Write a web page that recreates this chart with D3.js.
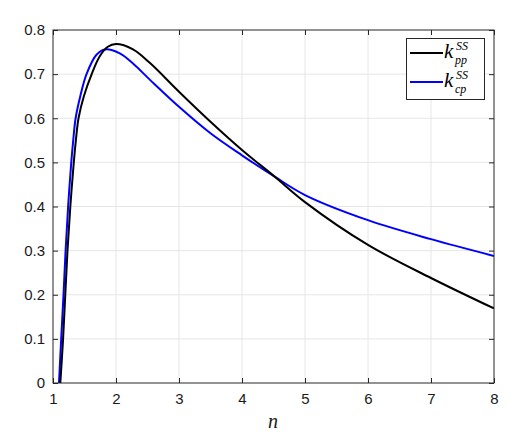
<!DOCTYPE html>
<html>
<head>
<meta charset="utf-8">
<script src="https://cdn.jsdelivr.net/npm/d3@7"></script>
<style>
  html, body { margin: 0; padding: 0; background: #fff; }
  svg { display: block; }
</style>
</head>
<body>
<svg id="chart" width="529" height="435"></svg>
<script>
// ---- data ----
const xTicks = [1, 2, 3, 4, 5, 6, 7, 8];
const yTicks = [0, 0.1, 0.2, 0.3, 0.4, 0.5, 0.6, 0.7, 0.8];
const yTickLabels = ["0", "0.1", "0.2", "0.3", "0.4", "0.5", "0.6", "0.7", "0.8"];

const nPP = [1.116, 1.16, 1.195, 1.23, 1.275, 1.33, 1.363, 1.405, 1.49, 1.614, 1.74, 1.87, 2.0, 2.27, 2.54, 3.0, 3.5, 4.0, 4.52, 5.0, 6.0, 7.0, 8.0];
const kPP = [0, 0.1, 0.2, 0.3, 0.4, 0.5, 0.55, 0.6, 0.65, 0.70, 0.74, 0.762, 0.768, 0.756, 0.725, 0.66, 0.592, 0.528, 0.4675, 0.41, 0.313, 0.238, 0.169];

const nCP = [1.095, 1.13, 1.167, 1.2, 1.24, 1.29, 1.321, 1.359, 1.433, 1.532, 1.69, 1.825, 2.06, 2.27, 2.54, 3.0, 3.5, 4.0, 4.52, 5.0, 6.0, 7.0, 8.0];
const kCP = [0, 0.1, 0.2, 0.3, 0.4, 0.5, 0.55, 0.6, 0.65, 0.70, 0.744, 0.756, 0.747, 0.724, 0.687, 0.626, 0.566, 0.516, 0.4675, 0.426, 0.369, 0.326, 0.288];

const seriesNames = [{main: "k", sup: "SS", sub: "pp"}, {main: "k", sup: "SS", sub: "cp"}];
const seriesColors = ["#000000", "#0000ff"];
const xLabel = "n";

// ---- layout ----
const svg = d3.select("#chart");
const L = 53, R = 494, T = 30, B = 383;
const x = d3.scaleLinear().domain([1, 8]).range([L, R]);
const y = d3.scaleLinear().domain([0, 0.8]).range([B, T]);
const axisColor = "#262626";
const font = "'Liberation Sans', Arial, Helvetica, sans-serif";

// grid
const g = svg.append("g");
g.selectAll(".vg").data(xTicks.slice(1, -1)).enter().append("line")
  .attr("x1", d => x(d)).attr("x2", d => x(d)).attr("y1", T).attr("y2", B)
  .attr("stroke", "#e6e6e6").attr("stroke-width", 1);
g.selectAll(".hg").data(yTicks.slice(1, -1)).enter().append("line")
  .attr("x1", L).attr("x2", R).attr("y1", d => y(d)).attr("y2", d => y(d))
  .attr("stroke", "#e6e6e6").attr("stroke-width", 1);

// curves
const line = d3.line().x(d => x(d[0])).y(d => y(d[1])).curve(d3.curveCatmullRom.alpha(0.5));
svg.append("clipPath").attr("id", "clip").append("rect")
  .attr("x", L).attr("y", T).attr("width", R - L).attr("height", B - T);
const series = [d3.zip(nCP, kCP), d3.zip(nPP, kPP)];
const cols = [seriesColors[1], seriesColors[0]];
svg.append("g").attr("clip-path", "url(#clip)").selectAll("path").data(series).enter().append("path")
  .attr("d", line).attr("fill", "none")
  .attr("stroke", (d, i) => cols[i]).attr("stroke-width", 2);

// axes (bottom, left, top, right) with inward ticks
const xAxisB = d3.axisBottom(x).tickValues(xTicks).tickSize(-5).tickPadding(10).tickFormat(d3.format("d"));
const yAxisL = d3.axisLeft(y).tickValues(yTicks).tickSize(-5).tickPadding(8).tickFormat((d, i) => yTickLabels[i]);
const xAxisT = d3.axisTop(x).tickValues(xTicks).tickSize(-5).tickFormat("");
const yAxisR = d3.axisRight(y).tickValues(yTicks).tickSize(-5).tickFormat("");

function style(sel) {
  sel.selectAll(".tick line").attr("stroke", axisColor).attr("stroke-width", 1);
  sel.selectAll("text").attr("fill", "#1a1a1a").style("font-family", font).style("font-size", "15px");
}
svg.append("g").attr("transform", `translate(0,${B})`).call(xAxisB).call(style);
svg.append("g").attr("transform", `translate(${L},0)`).call(yAxisL).call(style);
svg.append("g").attr("transform", `translate(0,${T})`).call(xAxisT).call(style);
svg.append("g").attr("transform", `translate(${R},0)`).call(yAxisR).call(style);
svg.selectAll(".domain").remove();
svg.append("rect").attr("x", L).attr("y", T).attr("width", R - L).attr("height", B - T)
  .attr("fill", "none").attr("stroke", axisColor).attr("stroke-width", 1);

// x label
svg.append("text").attr("x", 273).attr("y", 428).attr("text-anchor", "middle")
  .style("font-family", "'Liberation Serif', 'Times New Roman', serif").style("font-style", "italic")
  .style("font-size", "20px").attr("fill", "#1a1a1a").text(xLabel);

// legend
const lg = svg.append("g");
lg.append("rect").attr("x", 406.5).attr("y", 38.5).attr("width", 78).attr("height", 61)
  .attr("fill", "#fff").attr("stroke", axisColor).attr("stroke-width", 1);
const rows = [53, 82];
const ff = "'Liberation Serif', 'Times New Roman', serif";
seriesNames.forEach((s, i) => {
  const yy = rows[i];
  lg.append("line").attr("x1", 410).attr("x2", 443).attr("y1", yy).attr("y2", yy)
    .attr("stroke", seriesColors[i]).attr("stroke-width", 2);
  lg.append("text").attr("x", 444).attr("y", yy + 5).style("font-family", ff).style("font-style", "italic")
    .style("font-size", "21px").attr("fill", "#000").text(s.main);
  lg.append("text").attr("x", 456).attr("y", yy - 3).style("font-family", ff).style("font-style", "italic")
    .style("font-size", "12px").attr("fill", "#000").text(s.sup);
  lg.append("text").attr("x", 455).attr("y", yy + 11).style("font-family", ff).style("font-style", "italic")
    .style("font-size", "12px").attr("fill", "#000").text(s.sub);
});
</script>
</body>
</html>
